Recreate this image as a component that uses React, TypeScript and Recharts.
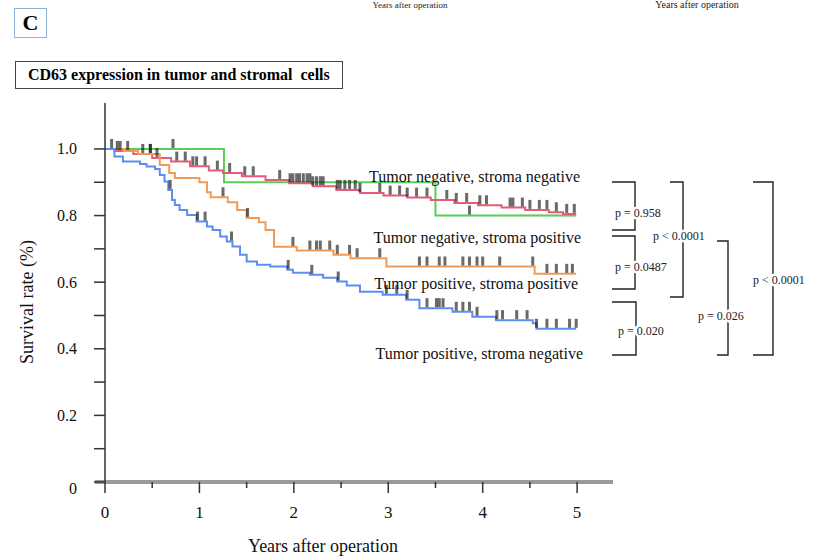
import React from "react";
import { ComposedChart, Line, XAxis, YAxis, ReferenceLine } from "recharts";

// Kaplan–Meier steps: [years, survival]
const greenCurve = [[0, 1], [1.26, 0.9], [3.5, 0.8], [4.99, 0.8]];
const redCurve = [
  [0, 1], [0.1, 0.994], [0.3, 0.985], [0.5, 0.973], [0.7, 0.962], [0.9, 0.948],
  [1.1, 0.935], [1.25, 0.928], [1.45, 0.918], [1.7, 0.907], [1.95, 0.897],
  [2.2, 0.888], [2.45, 0.877], [2.7, 0.868], [2.95, 0.86], [3.2, 0.854],
  [3.45, 0.847], [3.7, 0.838], [3.95, 0.831], [4.2, 0.824], [4.45, 0.817],
  [4.7, 0.81], [4.85, 0.805], [4.99, 0.805],
];
const orangeCurve = [
  [0, 1], [0.2, 0.994], [0.35, 0.985], [0.58, 0.952], [0.68, 0.928], [0.74, 0.913],
  [1.0, 0.9], [1.08, 0.87], [1.12, 0.855], [1.3, 0.84], [1.4, 0.817], [1.5, 0.793],
  [1.63, 0.78], [1.7, 0.757], [1.79, 0.706], [2.03, 0.695], [2.42, 0.682],
  [2.6, 0.672], [2.98, 0.647], [4.55, 0.625], [4.99, 0.625],
];
const blueCurve = [
  [0, 1], [0.1, 0.977], [0.19, 0.962], [0.37, 0.955], [0.44, 0.947], [0.53, 0.94],
  [0.58, 0.922], [0.63, 0.902], [0.67, 0.877], [0.71, 0.847], [0.74, 0.832],
  [0.79, 0.817], [0.87, 0.802], [0.97, 0.782], [1.08, 0.767], [1.14, 0.757],
  [1.22, 0.737], [1.29, 0.722], [1.35, 0.707], [1.43, 0.682], [1.5, 0.662],
  [1.61, 0.652], [1.75, 0.647], [1.93, 0.637], [1.99, 0.628], [2.17, 0.622],
  [2.31, 0.613], [2.46, 0.602], [2.56, 0.59], [2.7, 0.571], [2.94, 0.562],
  [3.19, 0.547], [3.33, 0.522], [3.68, 0.511], [3.89, 0.496], [4.14, 0.486],
  [4.53, 0.477], [4.57, 0.46], [4.99, 0.46],
];

// censored cases (years)
const greenCensor = [0.72, 3.86];
const redCensor = [
  0.07, 0.13, 0.16, 0.24, 0.4, 0.48, 0.55, 0.76, 0.85, 0.93, 0.97, 1.06, 1.19,
  1.32, 1.48, 1.57, 1.85, 1.96, 1.99, 2.03, 2.06, 2.1, 2.14, 2.17, 2.2, 2.24,
  2.28, 2.31, 2.46, 2.49, 2.54, 2.59, 2.65, 2.7, 2.91, 3.02, 3.12, 3.2, 3.3,
  3.41, 3.62, 3.72, 3.83, 3.97, 4.04, 4.29, 4.32, 4.42, 4.5, 4.6, 4.68, 4.78,
  4.89, 4.97,
];
const orangeCensor = [
  0.48, 1.25, 1.51, 1.99, 2.17, 2.24, 2.28, 2.38, 2.46, 2.59, 2.67, 2.91, 3.33,
  3.41, 3.54, 3.6, 3.79, 3.86, 3.94, 4.0, 4.18, 4.53, 4.68, 4.78, 4.89, 4.95,
];
const blueCensor = [
  0.69, 0.98, 1.06, 1.34, 1.94, 2.19, 2.47, 2.98, 3.09, 3.2, 3.41, 3.51, 3.54,
  3.58, 3.72, 3.79, 3.86, 3.94, 4.15, 4.21, 4.36, 4.47, 4.57, 4.68, 4.78, 4.92,
  4.99,
];

const xTicks = [0, 0.5, 1, 1.5, 2, 2.5, 3, 3.5, 4, 4.5, 5];
const yTicks = [0, 0.1, 0.2, 0.3, 0.4, 0.5, 0.6, 0.7, 0.8, 0.9, 1.0];

const curveLabels = [
  { text: "Tumor negative, stroma negative", x: 580, y: 182 },
  { text: "Tumor negative, stroma positive", x: 581, y: 243 },
  { text: "Tumor positive, stroma positive", x: 578, y: 289 },
  { text: "Tumor positive, stroma negative", x: 583, y: 359 },
];

const pBrackets = [
  { d: "M612,182 H635 V230 H612", label: "p = 0.958", x: 615, y: 217 },
  { d: "M612,236 H635 V289 H612", label: "p = 0.0487", x: 615, y: 271 },
  { d: "M612,302 H636 V355 H612", label: "p = 0.020", x: 618, y: 335 },
  { d: "M670,182 H683 V297 H670", label: "p < 0.0001", x: 653, y: 240 },
  { d: "M717,241 H728 V355 H717", label: "p = 0.026", x: 698, y: 320 },
  { d: "M753,182 H773 V355 H753", label: "p < 0.0001", x: 753, y: 284 },
];

const serif = "'Liberation Serif', 'Times New Roman', serif";

const toPoints = (curve: number[][]) => curve.map(([t, s]) => ({ t, s }));

function survAt(curve: number[][], t: number) {
  let s = curve[0][1];
  for (const [ct, cs] of curve) if (ct <= t) s = cs;
  return s;
}

const censorPoints = (curve: number[][], times: number[]) =>
  times.map((t) => ({ t, s: survAt(curve, t) }));

function CensorMark(props: any) {
  const { cx, cy, index } = props;
  if (cx == null || cy == null) return null;
  return (
    <rect key={index} x={cx - 1.5} y={cy - 10} width={3} height={9} fill="#1a1a1a" fillOpacity={0.65} />
  );
}

function XTick({ x, y, payload }: any) {
  const major = Number.isInteger(payload.value);
  return (
    <g>
      <line x1={x} x2={x} y1={y} y2={y + (major ? 11 : 6)} stroke="#333" strokeWidth={1.5} />
      {major && (
        <text x={x} y={y + 36} textAnchor="middle" fontSize={17} fontFamily={serif} fill="#111">
          {payload.value}
        </text>
      )}
    </g>
  );
}

function YTick({ x, y, payload }: any) {
  const v = payload.value;
  const i = Math.round(v * 10);
  const labelled = i % 2 === 0;
  const text = i === 0 ? "0" : v.toFixed(1);
  return (
    <g>
      <line x1={x - 11} x2={x} y1={y} y2={y} stroke="#333" strokeWidth={1.5} />
      {labelled && (
        <text x={x - 28} y={y + (i === 0 ? 12 : 5.5)} textAnchor="end" fontSize={16} fontFamily={serif} fill="#111">
          {text}
        </text>
      )}
    </g>
  );
}

const series = [
  { curve: greenCurve, censor: greenCensor, color: "#58cf58" },
  { curve: redCurve, censor: redCensor, color: "#e45c78" },
  { curve: orangeCurve, censor: orangeCensor, color: "#f19a55" },
  { curve: blueCurve, censor: blueCensor, color: "#5b8ef0" },
];

export default function App() {
  return (
    <div style={{ position: "absolute", left: 0, top: 0, width: 816, height: 557, background: "#fff", overflow: "hidden" }}>
      <ComposedChart width={816} height={557} margin={{ top: 103, right: 203, bottom: 35, left: 65 }}>
        <XAxis
          type="number"
          dataKey="t"
          domain={[0, 5.38]}
          ticks={xTicks}
          height={40}
          tickSize={0}
          tickMargin={0}
          axisLine={false}
          tickLine={false}
          tick={(p: any) => <XTick {...p} />}
          allowDataOverflow
        />
        <YAxis
          type="number"
          domain={[0, 1.138]}
          ticks={yTicks}
          width={40}
          tickSize={0}
          tickMargin={0}
          axisLine={{ stroke: "#333", strokeWidth: 1.5 }}
          tickLine={false}
          tick={(p: any) => <YTick {...p} />}
          allowDataOverflow
        />
        <ReferenceLine
          segment={[{ x: -0.106, y: 0 }, { x: 5.38, y: 0 }]}
          stroke="#9a9a9a"
          strokeWidth={4}
          ifOverflow="visible"
        />
        {series.map((s, i) => (
          <Line
            key={"c" + i}
            data={toPoints(s.curve)}
            dataKey="s"
            type="stepAfter"
            stroke={s.color}
            strokeWidth={2}
            dot={false}
            activeDot={false}
            isAnimationActive={false}
          />
        ))}
        {series.map((s, i) => (
          <Line
            key={"x" + i}
            data={censorPoints(s.curve, s.censor)}
            dataKey="s"
            stroke="none"
            dot={(p: any) => <CensorMark {...p} />}
            activeDot={false}
            isAnimationActive={false}
          />
        ))}
      </ComposedChart>

      <div
        style={{
          position: "absolute", left: 14, top: 8, width: 31, height: 28,
          border: "1.5px solid #8fb2d6", fontFamily: serif, fontWeight: "bold",
          fontSize: 22, display: "flex", alignItems: "center", justifyContent: "center",
        }}
      >
        C
      </div>
      <div
        style={{
          position: "absolute", left: 15, top: 61, height: 26, width: 314,
          border: "1px solid #444", fontFamily: serif, fontWeight: "bold",
          fontSize: 16, lineHeight: "26px", paddingLeft: 12, boxSizing: "content-box",
          whiteSpace: "pre",
        } as any}
      >
        {"CD63 expression in tumor and stromal  cells"}
      </div>

      <svg width={816} height={557} style={{ position: "absolute", left: 0, top: 0, pointerEvents: "none" }}>
        <text x={410} y={8} textAnchor="middle" fontSize={9} fontFamily={serif} fill="#222">Years after operation</text>
        <text x={697} y={8} textAnchor="middle" fontSize={10} fontFamily={serif} fill="#222">Years after operation</text>
        <text x={323} y={552} textAnchor="middle" fontSize={18} fontFamily={serif} fill="#111">Years after operation</text>
        <text x={0} y={0} transform="translate(33,302) rotate(-90)" textAnchor="middle" fontSize={18} fontFamily={serif} fill="#111">
          Survival rate (%)
        </text>
        {curveLabels.map((l) => (
          <text key={l.text} x={l.x} y={l.y} textAnchor="end" fontSize={16} fontFamily={serif} fill="#111">{l.text}</text>
        ))}
        {pBrackets.map((b, i) => (
          <g key={i}>
            <path d={b.d} fill="none" stroke="#222" strokeWidth={1.4} />
            <text
              x={b.x} y={b.y} fontSize={12} fontFamily={serif} fill="#222"
              stroke="#fff" strokeWidth={5} paintOrder="stroke"
            >
              {b.label}
            </text>
          </g>
        ))}
      </svg>
    </div>
  );
}
